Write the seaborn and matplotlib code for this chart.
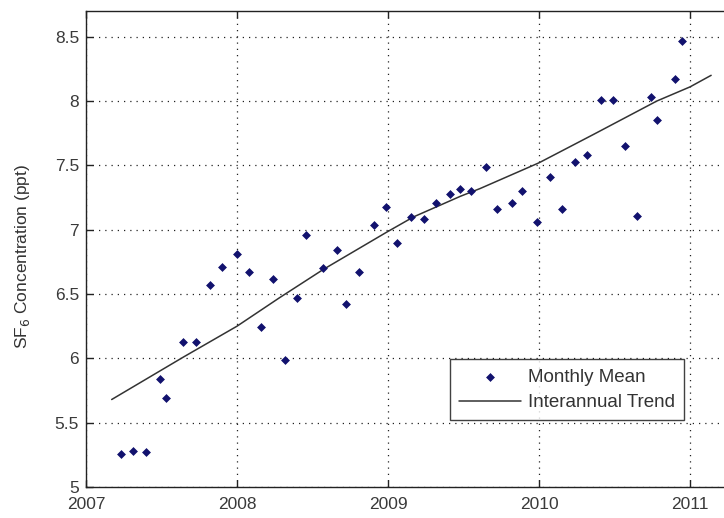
import matplotlib
matplotlib.use("Agg")
import matplotlib.pyplot as plt
import seaborn as sns
import pandas as pd

# Monthly mean SF6 concentrations (ppt)
month_time = [2007.23, 2007.31, 2007.40, 2007.49, 2007.53, 2007.64, 2007.73, 2007.82,
              2007.90, 2008.00, 2008.08, 2008.16, 2008.24, 2008.32, 2008.40, 2008.46,
              2008.57, 2008.66, 2008.72, 2008.81, 2008.91, 2008.99, 2009.06, 2009.15,
              2009.24, 2009.32, 2009.41, 2009.48, 2009.55, 2009.65, 2009.72, 2009.82,
              2009.89, 2009.99, 2010.07, 2010.15, 2010.24, 2010.32, 2010.41, 2010.49,
              2010.57, 2010.65, 2010.74, 2010.78, 2010.90, 2010.95]
monthly_mean = [5.26, 5.28, 5.27, 5.84, 5.69, 6.13, 6.13, 6.57,
                6.71, 6.81, 6.67, 6.24, 6.62, 5.99, 6.47, 6.96,
                6.70, 6.84, 6.42, 6.67, 7.04, 7.18, 6.90, 7.10,
                7.08, 7.21, 7.28, 7.32, 7.30, 7.49, 7.16, 7.21,
                7.30, 7.06, 7.41, 7.16, 7.53, 7.58, 8.01, 8.01,
                7.65, 7.11, 8.03, 7.85, 8.17, 8.47]

# Interannual trend
trend_time = [2007.17, 2007.645, 2008.00, 2008.28, 2008.57, 2008.99, 2009.17,
              2009.48, 2009.61, 2010.00, 2010.36, 2010.78, 2011.00, 2011.14]
trend_value = [5.68, 6.01, 6.25, 6.47, 6.69, 6.98, 7.10,
               7.26, 7.32, 7.52, 7.74, 8.00, 8.11, 8.20]

x_ticks = [2007, 2008, 2009, 2010, 2011]
y_ticks = [5, 5.5, 6, 6.5, 7, 7.5, 8, 8.5]
y_tick_labels = ["5", "5.5", "6", "6.5", "7", "7.5", "8", "8.5"]

sns.set_style("white")
plt.rcParams['font.family'] = ['Liberation Sans', 'DejaVu Sans']

fig = plt.figure(figsize=(7.24, 5.18), dpi=100)
ax = fig.add_axes([86/724, 31/518, (724-86)/724, (487-11)/518])

df_m = pd.DataFrame({"t": month_time, "v": monthly_mean})
df_t = pd.DataFrame({"t": trend_time, "v": trend_value})

sns.lineplot(data=df_t, x="t", y="v", ax=ax, color="#333333", linewidth=1.1,
             label="Interannual Trend", zorder=3)
sns.scatterplot(data=df_m, x="t", y="v", ax=ax, marker="D", s=16, color="#12126e",
                edgecolor="#12126e", linewidth=0.5, label="Monthly Mean", zorder=4)

ax.set_xlim(2007, 2007 + (724-86)/151.0)
ax.set_ylim(5, 8.70)
ax.set_xticks(x_ticks)
ax.set_xticklabels([str(v) for v in x_ticks])
ax.set_yticks(y_ticks)
ax.set_yticklabels(y_tick_labels)
ax.grid(True, linestyle=(0, (1, 4)), color="#222222", linewidth=0.9)
ax.set_axisbelow(True)

for s in ["left", "bottom", "top"]:
    ax.spines[s].set_color("#222222")
    ax.spines[s].set_linewidth(1.0)
ax.spines["right"].set_visible(False)

ax.tick_params(axis="both", direction="in", length=5, width=1.0, colors="#222222",
               labelsize=12.5, labelcolor="#3a3a3a", top=True, right=False, bottom=True, left=True)
ax.tick_params(axis="x", pad=7.5)
ax.tick_params(axis="y", pad=5)

ax.set_xlabel("")
ax.set_ylabel("SF$_6$ Concentration (ppt)", fontsize=12.5, color="#333333", va="center")
ax.yaxis.set_label_coords(-0.100, 0.485)

handles, labels = ax.get_legend_handles_labels()
order = [labels.index("Monthly Mean"), labels.index("Interannual Trend")]
leg = ax.legend([handles[i] for i in order], [labels[i] for i in order],
                loc="upper left", bbox_to_anchor=((450-86)/(724-86), 1 - (359-11)/(487-11)),
                frameon=True, fancybox=False, edgecolor="#111111", fontsize=13.5,
                handlelength=3.3, handletextpad=0.35, borderpad=0.5, labelspacing=0.45,
                borderaxespad=0)
leg.get_frame().set_linewidth(1.0)
for t in leg.get_texts():
    t.set_color("#333333")

fig.savefig("out.png", dpi=100, facecolor="white")
